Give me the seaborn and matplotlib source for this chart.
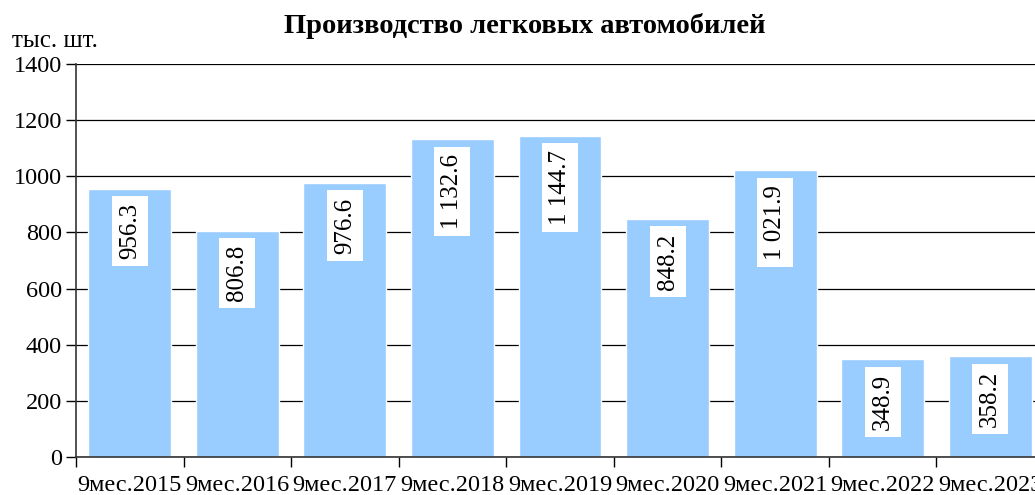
import pandas as pd
import matplotlib.pyplot as plt
import seaborn as sns

# chart data
periods = ['9мес.2015', '9мес.2016', '9мес.2017', '9мес.2018', '9мес.2019',
           '9мес.2020', '9мес.2021', '9мес.2022', '9мес.2023']
values = [956.3, 806.8, 976.6, 1132.6, 1144.7, 848.2, 1021.9, 348.9, 358.2]
value_labels = ['956.3', '806.8', '976.6', '1 132.6', '1 144.7',
                '848.2', '1 021.9', '348.9', '358.2']
y_ticks = [0, 200, 400, 600, 800, 1000, 1200, 1400]

df = pd.DataFrame({'period': periods, 'value': values})

sns.set_style('white')
plt.rcParams['font.family'] = ['Liberation Serif', 'DejaVu Serif']
plt.rcParams['text.color'] = 'black'
plt.rcParams['xtick.color'] = 'black'
plt.rcParams['ytick.color'] = 'black'

fig = plt.figure(figsize=(10.35, 4.95), dpi=100)
# axes run past the right edge, like the original
ax = fig.add_axes([76 / 1035, 38 / 495, 968 / 1035, 393 / 495])

sns.barplot(data=df, x='period', y='value', color='#99CCFF', saturation=1,
            width=0.77, ax=ax, zorder=2)

ax.set_xlim(-0.5, len(periods) - 0.5)
ax.set_ylim(0, 1400)
ax.set_yticks(y_ticks)
ax.yaxis.grid(True, color='black', linewidth=0.9, zorder=0)
ax.set_axisbelow(True)

for i, (v, lab) in enumerate(zip(values, value_labels)):
    ax.text(i, v - 52, lab, rotation=90, ha='center', va='top', fontsize=18,
            color='black', bbox=dict(facecolor='white', edgecolor='none', pad=5), zorder=3)

# x ticks between categories
ax.set_xticks([i - 0.5 for i in range(len(periods))], minor=False)
ax.set_xticklabels([])
ax.set_xticks(range(len(periods)), minor=True)
ax.set_xticklabels(periods, minor=True)
ax.tick_params(axis='x', which='major', direction='out', length=7, width=1, color='black', bottom=True)
ax.tick_params(axis='x', which='minor', length=0, labelsize=17.5, pad=13, labelcolor='black')
ax.tick_params(axis='y', direction='out', length=7, width=1, color='black', left=True,
               labelsize=17.5, pad=3, labelcolor='black')

for side in ['top', 'right']:
    ax.spines[side].set_visible(False)
for side in ['left', 'bottom']:
    ax.spines[side].set_color('#333333')
    ax.spines[side].set_linewidth(1.2)

ax.set_xlabel('')
ax.set_ylabel('')

fig.text(0.507, 0.947, 'Производство легковых автомобилей', ha='center', va='center',
         fontsize=20.5, fontweight='bold', color='black')
fig.text(0.012, 0.918, 'тыс. шт.', ha='left', va='center', fontsize=18, color='black')

fig.savefig('out.png', dpi=100)
